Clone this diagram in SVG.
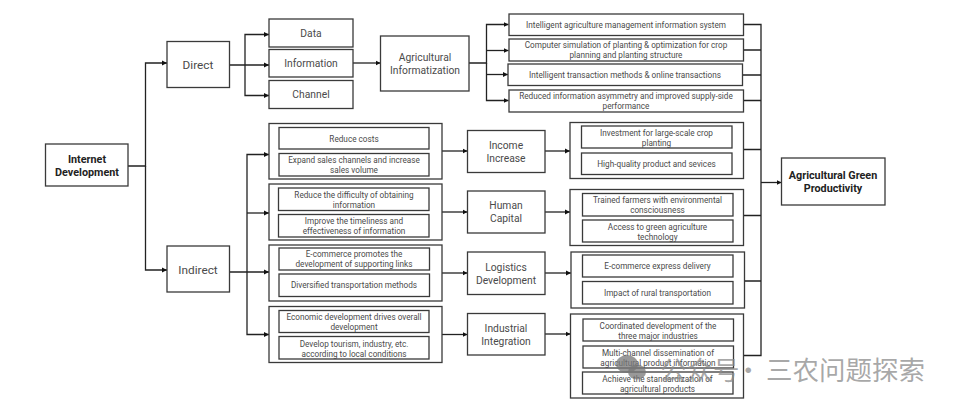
<svg xmlns="http://www.w3.org/2000/svg" width="955" height="409" viewBox="0 0 955 409">
<style>
text{font-family:Roboto,"Liberation Sans",sans-serif;fill:#4a4a4a;text-anchor:middle}
rect{fill:none;stroke:#3a3a3a;stroke-width:1.3}
.lg{font-size:11.8px}
.md{font-size:10.3px}
.sm{font-size:8.2px}
.b{font-size:10.800px;font-weight:700;fill:#222}
.w{font-family:"Noto Sans CJK SC","Noto Sans",sans-serif;font-size:26.5px;fill:#8c8c8c;fill-opacity:.75;text-anchor:start}
#connectors path{fill:none;stroke:#222;stroke-width:1.3}
</style>
<defs>
<marker id="a" markerUnits="userSpaceOnUse" markerWidth="6" markerHeight="6" refX="5" refY="3" orient="auto"><path d="M0 0.6L5 3L0 5.4z" fill="#111"/></marker>
</defs>
<g id="connectors">
<path d="M128 166H145.500V63H167" marker-end="url(#a)"/>
<path d="M145.500 166V270H167" marker-end="url(#a)"/>
<path d="M229.500 65H269" marker-end="url(#a)"/>
<path d="M245 65V34.500H269" marker-end="url(#a)"/>
<path d="M245 65V95.500H269" marker-end="url(#a)"/>
<path d="M353 63H380.500" marker-end="url(#a)"/>
<path d="M469 63H486.500V24.500H508.500" marker-end="url(#a)"/>
<path d="M486.500 50.500H508.500" marker-end="url(#a)"/>
<path d="M486.500 74.500H508" marker-end="url(#a)"/>
<path d="M486.500 63V100.500H508.500" marker-end="url(#a)"/>
<path d="M229.500 272H269" marker-end="url(#a)"/>
<path d="M247 272V154.500H269" marker-end="url(#a)"/>
<path d="M247 213H269" marker-end="url(#a)"/>
<path d="M247 272V334.500H269" marker-end="url(#a)"/>
<path d="M442 151H467.500" marker-end="url(#a)"/>
<path d="M442 212H467.500" marker-end="url(#a)"/>
<path d="M442 273H467.500" marker-end="url(#a)"/>
<path d="M442 334.500H467.500" marker-end="url(#a)"/>
<path d="M545 151H570" marker-end="url(#a)"/>
<path d="M545 212H570" marker-end="url(#a)"/>
<path d="M545 273H571" marker-end="url(#a)"/>
<path d="M545 334H570.500" marker-end="url(#a)"/>
<path d="M743.500 24.500H761V355.500H743.500"/>
<path d="M743.500 50H761M742.500 75H761M743.500 100.500H761M743.500 149.500H761M743.500 215.500H761M744.500 281H761"/>
<path d="M761 182.500H781.500" marker-end="url(#a)"/>
</g>
<g id="internet"><rect x="45.500" y="144" width="82.500" height="42"/><text class="b" x="87" y="163">Internet</text><text class="b" x="87" y="176">Development</text></g>
<g id="direct"><rect x="167" y="41.500" width="62.500" height="46"/><text class="lg" x="198" y="69">Direct</text></g>
<g id="indirect"><rect x="167" y="246" width="62.500" height="46"/><text class="lg" x="198" y="274">Indirect</text></g>
<g id="data"><rect x="269" y="19" width="84" height="28"/><text class="md" x="311" y="37">Data</text></g>
<g id="information"><rect x="269" y="49.500" width="84" height="27.500"/><text class="md" x="311" y="67">Information</text></g>
<g id="channel"><rect x="269" y="80.500" width="84" height="28"/><text class="md" x="311" y="98">Channel</text></g>
<g id="agri-info"><rect x="380.500" y="36" width="88.500" height="55"/><text class="md" x="425" y="61">Agricultural</text><text class="md" x="425" y="74">Informatization</text></g>
<g id="list-1"><rect x="509" y="14" width="234.500" height="21.500"/><text class="sm" x="626" y="28">Intelligent agriculture management information system</text></g>
<g id="list-2"><rect x="509" y="39" width="234.500" height="22"/><text class="sm" x="626" y="48">Computer simulation of planting &amp; optimization for crop</text><text class="sm" x="626" y="58">planning and planting structure</text></g>
<g id="list-3"><rect x="508" y="64" width="234.500" height="21.500"/><text class="sm" x="625" y="78">Intelligent transaction methods &amp; online transactions</text></g>
<g id="list-4"><rect x="509" y="90" width="234.500" height="22"/><text class="sm" x="626" y="99">Reduced information asymmetry and improved supply-side</text><text class="sm" x="626" y="109">performance</text></g>
<g id="causes-income"><rect x="269" y="123.500" width="173" height="55.500"/><rect x="279" y="127.500" width="150" height="21.500"/><text class="sm" x="354" y="141.500">Reduce costs</text><rect x="279" y="153.500" width="150" height="22.500"/><text class="sm" x="354" y="163">Expand sales channels and increase</text><text class="sm" x="354" y="173">sales volume</text></g>
<g id="causes-human"><rect x="269" y="184" width="173" height="56"/><rect x="278.500" y="188" width="150.500" height="22.500"/><text class="sm" x="354" y="197.500">Reduce the difficulty of obtaining</text><text class="sm" x="354" y="207.500">information</text><rect x="278.500" y="214.500" width="150.500" height="22.500"/><text class="sm" x="354" y="224">Improve the timeliness and</text><text class="sm" x="354" y="234">effectiveness of information</text></g>
<g id="causes-logistics"><rect x="269" y="245" width="173" height="56"/><rect x="279" y="248" width="150.500" height="22"/><text class="sm" x="354" y="257">E-commerce promotes the</text><text class="sm" x="354" y="267">development of supporting links</text><rect x="279" y="274" width="150.500" height="22.500"/><text class="sm" x="354" y="288">Diversified transportation methods</text></g>
<g id="causes-industrial"><rect x="269" y="306.500" width="173" height="56"/><rect x="279" y="310.500" width="150" height="22"/><text class="sm" x="354" y="320">Economic development drives overall</text><text class="sm" x="354" y="330">development</text><rect x="279" y="336.500" width="150" height="22.500"/><text class="sm" x="354" y="346.500">Develop tourism, industry, etc.</text><text class="sm" x="354" y="356.500">according to local conditions</text></g>
<g id="income"><rect x="467.500" y="130.500" width="77.500" height="42"/><text class="md" x="506" y="149">Income</text><text class="md" x="506" y="162">Increase</text></g>
<g id="human"><rect x="467.500" y="191" width="77.500" height="42"/><text class="md" x="506" y="209">Human</text><text class="md" x="506" y="222">Capital</text></g>
<g id="logistics"><rect x="467.500" y="252" width="77.500" height="42.500"/><text class="md" x="506" y="270.500">Logistics</text><text class="md" x="506" y="283.500">Development</text></g>
<g id="industrial"><rect x="467.500" y="313.500" width="77.500" height="41.500"/><text class="md" x="506" y="332">Industrial</text><text class="md" x="506" y="345">Integration</text></g>
<g id="effects-income"><rect x="570" y="122.500" width="173.500" height="56"/><rect x="581.500" y="126" width="150.500" height="22"/><text class="sm" x="656.500" y="135.500">Investment for large-scale crop</text><text class="sm" x="656.500" y="145.500">planting</text><rect x="581.500" y="153" width="150.500" height="21.500"/><text class="sm" x="656.500" y="167">High-quality product and sevices</text></g>
<g id="effects-human"><rect x="570" y="189.500" width="173.500" height="56"/><rect x="582.500" y="193.500" width="150.500" height="22.500"/><text class="sm" x="657.500" y="203">Trained farmers with environmental</text><text class="sm" x="657.500" y="213">consciousness</text><rect x="582.500" y="220" width="150.500" height="22"/><text class="sm" x="657.500" y="229.500">Access to green agriculture</text><text class="sm" x="657.500" y="239.500">technology</text></g>
<g id="effects-logistics"><rect x="571" y="252" width="173.500" height="56"/><rect x="582.500" y="255" width="150.500" height="22"/><text class="sm" x="657.500" y="269">E-commerce express delivery</text><rect x="582.500" y="281.500" width="150.500" height="22.500"/><text class="sm" x="657.500" y="295.500">Impact of rural transportation</text></g>
<g id="effects-industrial"><rect x="570.500" y="314" width="173" height="84"/><rect x="583" y="319" width="150.500" height="22"/><text class="sm" x="658" y="328.500">Coordinated development of the</text><text class="sm" x="658" y="338.500">three major industries</text><rect x="583" y="346" width="150.500" height="22"/><text class="sm" x="658" y="355.500">Multi-channel dissemination of</text><text class="sm" x="658" y="365.500">agricultural product information</text><rect x="582.500" y="372" width="150.500" height="22"/><text class="sm" x="657.500" y="381.500">Achieve the standardization of</text><text class="sm" x="657.500" y="391.500">agricultural products</text></g>
<g id="green"><rect x="781.500" y="158" width="103.500" height="47"/><text class="b" x="833" y="179">Agricultural Green</text><text class="b" x="833" y="192">Productivity</text></g>
<g id="watermark"><ellipse cx="627" cy="364" rx="11" ry="9" fill="#777" fill-opacity=".75"/><ellipse cx="637" cy="372" rx="9" ry="7.500" fill="#777" fill-opacity=".75"/><text class="w" x="660" y="380">公众号<tspan x="735">·</tspan><tspan x="766">三农问题探索</tspan></text></g>
</svg>
